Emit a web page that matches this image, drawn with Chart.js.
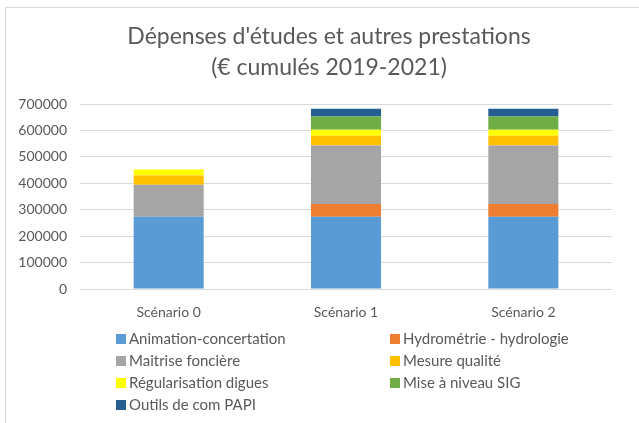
<!DOCTYPE html>
<html>
<head>
<meta charset="utf-8">
<script src="https://cdn.jsdelivr.net/npm/chart.js@4"></script>
<style>
    html, body { margin: 0; padding: 0; background: #fff; }
    #wrap { position: relative; width: 639px; height: 423px; }
</style>
</head>
<body>
<div id="wrap"><canvas id="depensesChart" width="639" height="423"></canvas></div>
<script>
const scenarios = ['Scénario 0', 'Scénario 1', 'Scénario 2'];
const seriesNames = [
    'Animation-concertation',
    'Hydrométrie - hydrologie',
    'Maitrise foncière',
    'Mesure qualité',
    'Régularisation digues',
    'Mise à niveau SIG',
    'Outils de com PAPI'
];
const animation = [273000, 273000, 273000];
const hydrometrie = [0, 49000, 49000];
const maitrise = [121000, 221000, 221000];
const mesure = [35000, 37000, 37000];
const regularisation = [23000, 23000, 23000];
const sig = [0, 50000, 50000];
const outils = [0, 29000, 29000];
const yTicks = [0, 100000, 200000, 300000, 400000, 500000, 600000, 700000];
const titleLines = ["Dépenses d'études et autres prestations", '(€ cumulés 2019-2021)'];

const seriesValues = [animation, hydrometrie, maitrise, mesure, regularisation, sig, outils];
const seriesColors = ['#5B9BD5', '#ED7D31', '#A5A5A5', '#FFC000', '#FFFF00', '#70AD47', '#255E91'];

const textColor = '#595959';
const fontFamily = 'Lato, "Open Sans", sans-serif';

// title, two-column legend and box frame drawn by hand
const chartDecor = {
    id: 'chartDecor',
    afterDraw(chart) {
        const ctx = chart.ctx;
        ctx.save();

        ctx.fillStyle = textColor;
        ctx.font = '23px ' + fontFamily;
        ctx.textAlign = 'center';
        ctx.textBaseline = 'middle';
        ctx.fillText(titleLines[0], 329, 37);
        ctx.fillText(titleLines[1], 329, 68);

        const colX = [116, 390];
        const rowY = [339, 361, 383, 405];
        ctx.font = '15px ' + fontFamily;
        ctx.textAlign = 'left';
        chart.data.datasets.forEach(function(ds, i) {
            const x = colX[i % 2];
            const y = rowY[Math.floor(i / 2)];
            ctx.fillStyle = ds.backgroundColor;
            ctx.fillRect(x, y - 5, 10, 10);
            ctx.fillStyle = textColor;
            ctx.fillText(ds.label, x + 13, y);
        });

        ctx.strokeStyle = '#d9d9d9';
        ctx.lineWidth = 1;
        ctx.beginPath();
        ctx.moveTo(5.5, 423);
        ctx.lineTo(5.5, 7.5);
        ctx.lineTo(639, 7.5);
        ctx.stroke();
        ctx.restore();
    }
};

const ctx = document.getElementById('depensesChart').getContext('2d');
const depensesChart = new Chart(ctx, {
    type: 'bar',
    data: {
        labels: scenarios,
        datasets: seriesNames.map(function(name, i) {
            return {
                label: name,
                data: seriesValues[i],
                backgroundColor: seriesColors[i],
                borderWidth: 0,
                categoryPercentage: 1,
                barPercentage: 0.395
            };
        })
    },
    options: {
        responsive: false,
        animation: false,
        layout: { padding: { left: 10, right: 27, top: 104, bottom: 0 } },
        plugins: {
            legend: { display: false },
            tooltip: { enabled: false },
            title: { display: false }
        },
        scales: {
            x: {
                stacked: true,
                grid: { display: false },
                border: { display: false },
                ticks: { color: textColor, font: { family: fontFamily, size: 14 }, padding: 7 },
                afterFit(scale) { scale.height = 134; }
            },
            y: {
                stacked: true,
                min: 0,
                max: 700000,
                afterBuildTicks(scale) { scale.ticks = yTicks.map(v => ({ value: v })); },
                grid: { color: '#d9d9d9', drawTicks: false },
                border: { display: false },
                ticks: {
                    color: textColor,
                    font: { family: fontFamily, size: 14 },
                    padding: 13,
                    callback: function(value) { return String(value); }
                },
                afterFit(scale) { scale.width = 70; }
            }
        }
    },
    plugins: [chartDecor]
});
</script>
</body>
</html>
